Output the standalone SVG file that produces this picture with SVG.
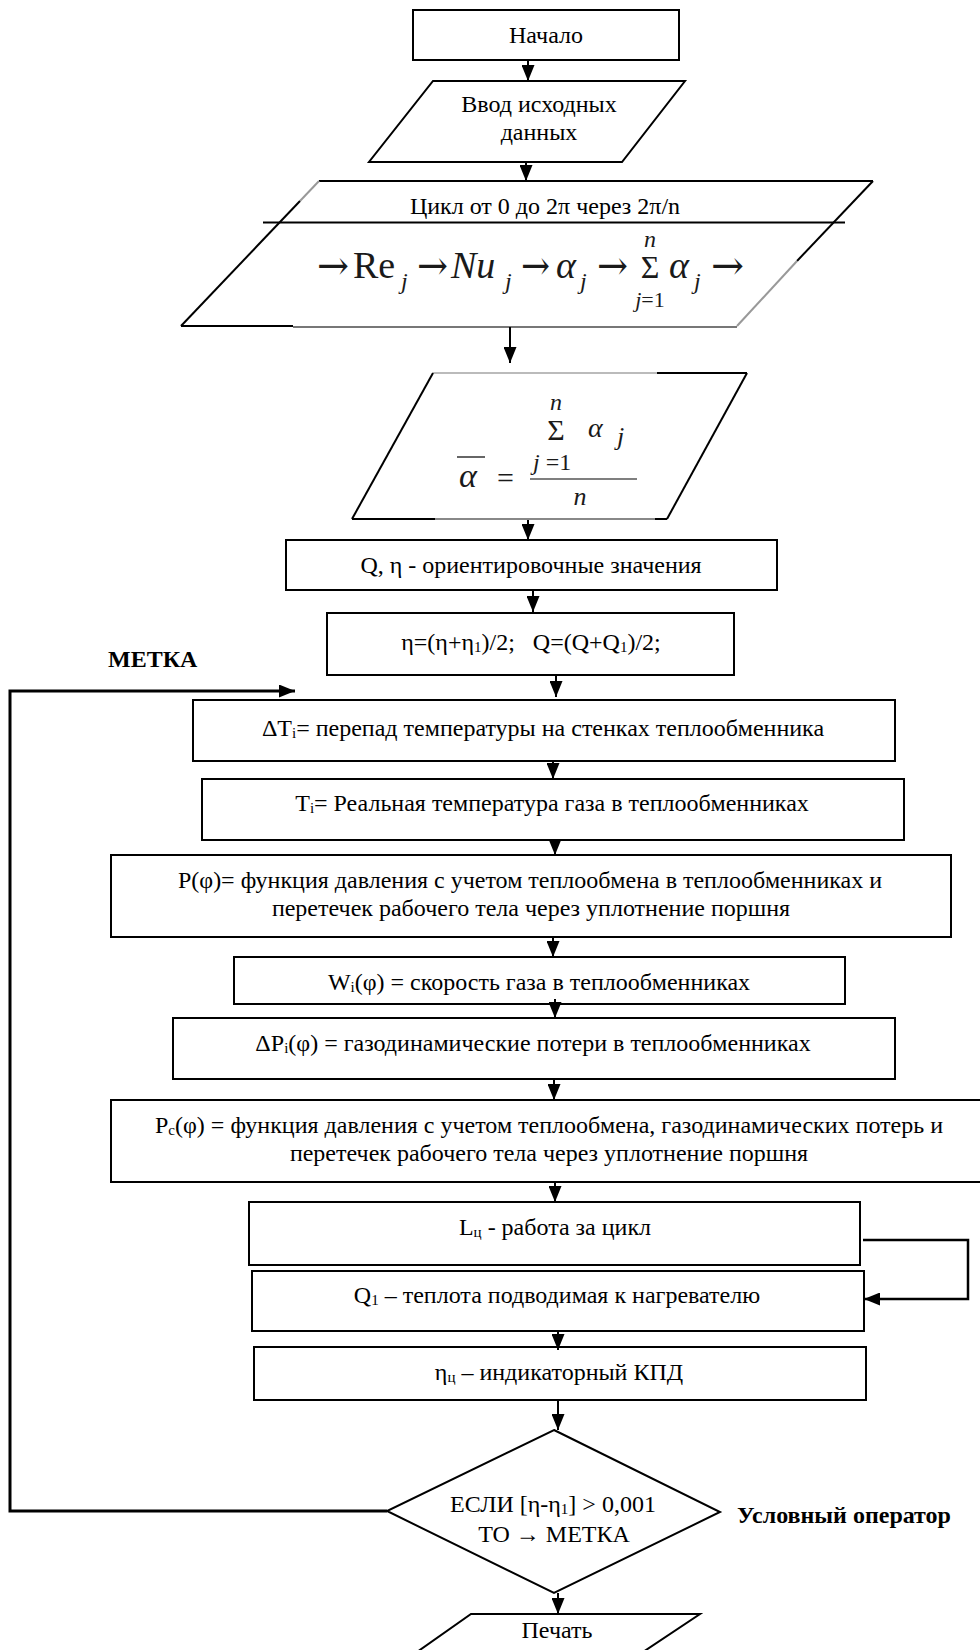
<svg xmlns="http://www.w3.org/2000/svg" width="980" height="1650" viewBox="0 0 980 1650">
<defs>
<style>
.b{fill:#fff;stroke:#000;stroke-width:2}
.e{fill:none;stroke:#000;stroke-width:2}
.g{fill:none;stroke:#999;stroke-width:2}
.t{font-family:"Liberation Serif","Times New Roman",serif;font-size:24px;fill:#000;text-anchor:middle}
.tb{font-family:"Liberation Serif","Times New Roman",serif;font-size:24px;font-weight:bold;fill:#000}
.m{font-family:"Liberation Serif","Times New Roman",serif;fill:#1a1a1a}
.ar{font-family:"DejaVu Serif","Liberation Serif",serif;font-size:40px}
.i{font-style:italic}
.c{fill:none;stroke:#000;stroke-width:2}
.cl{fill:none;stroke:#000;stroke-width:3}
</style>
<marker id="ah" viewBox="0 0 16 13" refX="16" refY="6.5" markerWidth="16" markerHeight="13" markerUnits="userSpaceOnUse" orient="auto">
<path d="M0,0 L16,6.5 L0,13 z" fill="#000"/>
</marker>
</defs>
<rect x="0" y="0" width="980" height="1650" fill="#fff"/>

<g id="start">
<rect class="b" x="413" y="10" width="266" height="50"/>
<text class="t" x="546" y="43">Начало</text>
</g>

<g id="input">
<polygon class="b" points="433,81 685,81 622,162 369,162"/>
<text class="t" x="539" y="112">Ввод исходных</text>
<text class="t" x="539" y="140">данных</text>
</g>

<g id="cycle">
<line class="e" x1="319" y1="181" x2="873" y2="181"/>
<line class="g" x1="319" y1="181" x2="300" y2="201"/>
<line class="e" x1="300" y1="201" x2="181" y2="326"/>
<line class="e" x1="873" y1="181" x2="797" y2="261"/>
<line class="g" x1="797" y1="261" x2="737" y2="326"/>
<line class="e" x1="181" y1="326" x2="293" y2="326"/>
<line fill="none" stroke="#777" stroke-width="2" x1="293" y1="327" x2="737" y2="327"/>
<line class="e" x1="263" y1="222.5" x2="845" y2="222.5"/>
<text class="t" x="545" y="214">Цикл от 0 до 2π через 2π/n</text>
<g class="m">
<text class="ar" x="317" y="279" textLength="32" lengthAdjust="spacingAndGlyphs">→</text>
<text x="353" y="278" font-size="38">Re</text>
<text class="i" x="401" y="289" font-size="24">j</text>
<text class="ar" x="417" y="279" textLength="31" lengthAdjust="spacingAndGlyphs">→</text>
<text class="i" x="451" y="278" font-size="38">Nu</text>
<text class="i" x="505" y="289" font-size="24">j</text>
<text class="ar" x="521" y="279" textLength="29" lengthAdjust="spacingAndGlyphs">→</text>
<text class="i" x="556" y="278" font-size="38">α</text>
<text class="i" x="580" y="289" font-size="24">j</text>
<text class="ar" x="597" y="279" textLength="31" lengthAdjust="spacingAndGlyphs">→</text>
<text x="650" y="278" font-size="32" text-anchor="middle">Σ</text>
<text class="i" x="650" y="247" font-size="24" text-anchor="middle">n</text>
<text x="650" y="307" font-size="22" text-anchor="middle"><tspan font-style="italic">j</tspan>=1</text>
<text class="i" x="669" y="278" font-size="38">α</text>
<text class="i" x="694" y="289" font-size="24">j</text>
<text class="ar" x="711" y="279" textLength="33" lengthAdjust="spacingAndGlyphs">→</text>
</g>
</g>

<g id="mean">
<line fill="none" stroke="#bbb" stroke-width="2" x1="433" y1="373" x2="657" y2="373"/>
<line class="e" x1="657" y1="373" x2="747" y2="373"/>
<line class="e" x1="747" y1="373" x2="667" y2="519"/>
<line class="e" x1="352" y1="519" x2="435" y2="519"/>
<line fill="none" stroke="#888" stroke-width="2" x1="435" y1="519" x2="655" y2="519"/>
<line class="e" x1="655" y1="519" x2="667" y2="519"/>
<line class="e" x1="433" y1="373" x2="352" y2="519"/>
<g class="m">
<line x1="457" y1="457" x2="485" y2="457" stroke="#333" stroke-width="1.5"/>
<text class="i" x="459" y="487" font-size="34">α</text>
<text x="497" y="488" font-size="30">=</text>
<line x1="530" y1="479" x2="637" y2="479" stroke="#555" stroke-width="1.5"/>
<text x="556" y="440" font-size="30" text-anchor="middle">Σ</text>
<text class="i" x="556" y="410" font-size="24" text-anchor="middle">n</text>
<text class="i" x="588" y="437" font-size="28">α</text>
<text class="i" x="617" y="445" font-size="26">j</text>
<text x="533" y="470" font-size="24"><tspan font-style="italic">j</tspan> =1</text>
<text class="i" x="580" y="505" font-size="26" text-anchor="middle">n</text>
</g>
</g>

<g id="approx">
<rect class="b" x="286" y="540" width="491" height="50"/>
<text class="t" x="531" y="573">Q, η - ориентировочные значения</text>
</g>

<g id="avg">
<rect class="b" x="327" y="613" width="407" height="62"/>
<text class="t" x="531" y="650" xml:space="preserve">η=(η+η<tspan font-size="15" dy="2">1</tspan><tspan dy="-2">)/2;   Q=(Q+Q</tspan><tspan font-size="15" dy="2">1</tspan><tspan dy="-2">)/2;</tspan></text>
</g>

<g id="label-metka">
<text class="tb" x="108" y="667">МЕТКА</text>
</g>

<g id="dT">
<rect class="b" x="193" y="700" width="702" height="61"/>
<text class="t" x="543" y="736">ΔT<tspan font-size="15" dy="2">i</tspan><tspan dy="-2">= перепад температуры на стенках теплообменника</tspan></text>
</g>

<g id="Ti">
<rect class="b" x="202" y="779" width="702" height="61"/>
<text class="t" x="552" y="811">T<tspan font-size="15" dy="2">i</tspan><tspan dy="-2">= Реальная температура газа в теплообменниках</tspan></text>
</g>

<g id="P">
<rect class="b" x="111" y="855" width="840" height="82"/>
<text class="t" x="530" y="888">P(φ)= функция давления с учетом теплообмена в теплообменниках и</text>
<text class="t" x="531" y="916">перетечек рабочего тела через уплотнение поршня</text>
</g>

<g id="W">
<rect class="b" x="234" y="957" width="611" height="47"/>
<text class="t" x="539" y="990">W<tspan font-size="15" dy="2">i</tspan><tspan dy="-2">(φ) = скорость газа в теплообменниках</tspan></text>
</g>

<g id="dP">
<rect class="b" x="173" y="1018" width="722" height="61"/>
<text class="t" x="533" y="1051">ΔP<tspan font-size="15" dy="2">i</tspan><tspan dy="-2">(φ) = газодинамические потери в теплообменниках</tspan></text>
</g>

<g id="Pc">
<path class="b" d="M985,1100 L111,1100 L111,1182 L985,1182"/>
<text class="t" x="549" y="1133">P<tspan font-size="15" dy="2">c</tspan><tspan dy="-2">(φ) = функция давления с учетом теплообмена, газодинамических потерь и</tspan></text>
<text class="t" x="549" y="1161">перетечек рабочего тела через уплотнение поршня</text>
</g>

<g id="L">
<rect class="b" x="249" y="1202" width="611" height="63"/>
<text class="t" x="555" y="1235">L<tspan font-size="15" dy="2">ц</tspan><tspan dy="-2"> - работа за цикл</tspan></text>
</g>

<g id="Q1">
<rect class="b" x="252" y="1271" width="612" height="60"/>
<text class="t" x="557" y="1303">Q<tspan font-size="15" dy="2">1</tspan><tspan dy="-2"> – теплота подводимая к нагревателю</tspan></text>
</g>

<g id="eta">
<rect class="b" x="254" y="1347" width="612" height="53"/>
<text class="t" x="559" y="1380">η<tspan font-size="15" dy="2">ц</tspan><tspan dy="-2"> – индикаторный КПД</tspan></text>
</g>

<g id="cond">
<polygon class="b" points="554,1430 720,1512 554,1593 387,1511"/>
<text class="t" x="553" y="1512">ЕСЛИ [η-η<tspan font-size="15" dy="2">1</tspan><tspan dy="-2">] &gt; 0,001</tspan></text>
<text class="t" x="554" y="1542">ТО → МЕТКА</text>
</g>

<g id="label-cond">
<text class="tb" x="737" y="1523">Условный оператор</text>
</g>

<g id="print">
<path class="b" d="M417,1652 L471,1614 L700,1614 L643,1652"/>
<text class="t" x="557" y="1638">Печать</text>
</g>

<g id="connectors">
<line class="c" x1="528" y1="60" x2="528" y2="81" marker-end="url(#ah)"/>
<line class="c" x1="526" y1="162" x2="526" y2="181" marker-end="url(#ah)"/>
<line class="c" x1="510" y1="327" x2="510" y2="363" marker-end="url(#ah)"/>
<line class="c" x1="528" y1="520" x2="528" y2="540" marker-end="url(#ah)"/>
<line class="c" x1="533" y1="590" x2="533" y2="612" marker-end="url(#ah)"/>
<line class="c" x1="556" y1="675" x2="556" y2="697" marker-end="url(#ah)"/>
<line class="c" x1="553" y1="761" x2="553" y2="779" marker-end="url(#ah)"/>
<line class="c" x1="555" y1="840" x2="555" y2="855" marker-end="url(#ah)"/>
<line class="c" x1="553" y1="937" x2="553" y2="957" marker-end="url(#ah)"/>
<line class="c" x1="555" y1="999" x2="555" y2="1018" marker-end="url(#ah)"/>
<line class="c" x1="554" y1="1079" x2="554" y2="1100" marker-end="url(#ah)"/>
<line class="c" x1="555" y1="1182" x2="555" y2="1202" marker-end="url(#ah)"/>
<line class="c" x1="558" y1="1331" x2="558" y2="1350" marker-end="url(#ah)"/>
<line class="c" x1="558" y1="1401" x2="558" y2="1430" marker-end="url(#ah)"/>
<line class="c" x1="558" y1="1593" x2="558" y2="1614" marker-end="url(#ah)"/>
<polyline class="cl" points="387,1511 10,1511 10,691 295,691" marker-end="url(#ah)"/>
<polyline fill="none" stroke="#000" stroke-width="2.5" points="863,1240 968,1240 968,1299 864,1299" marker-end="url(#ah)"/>
</g>
</svg>
